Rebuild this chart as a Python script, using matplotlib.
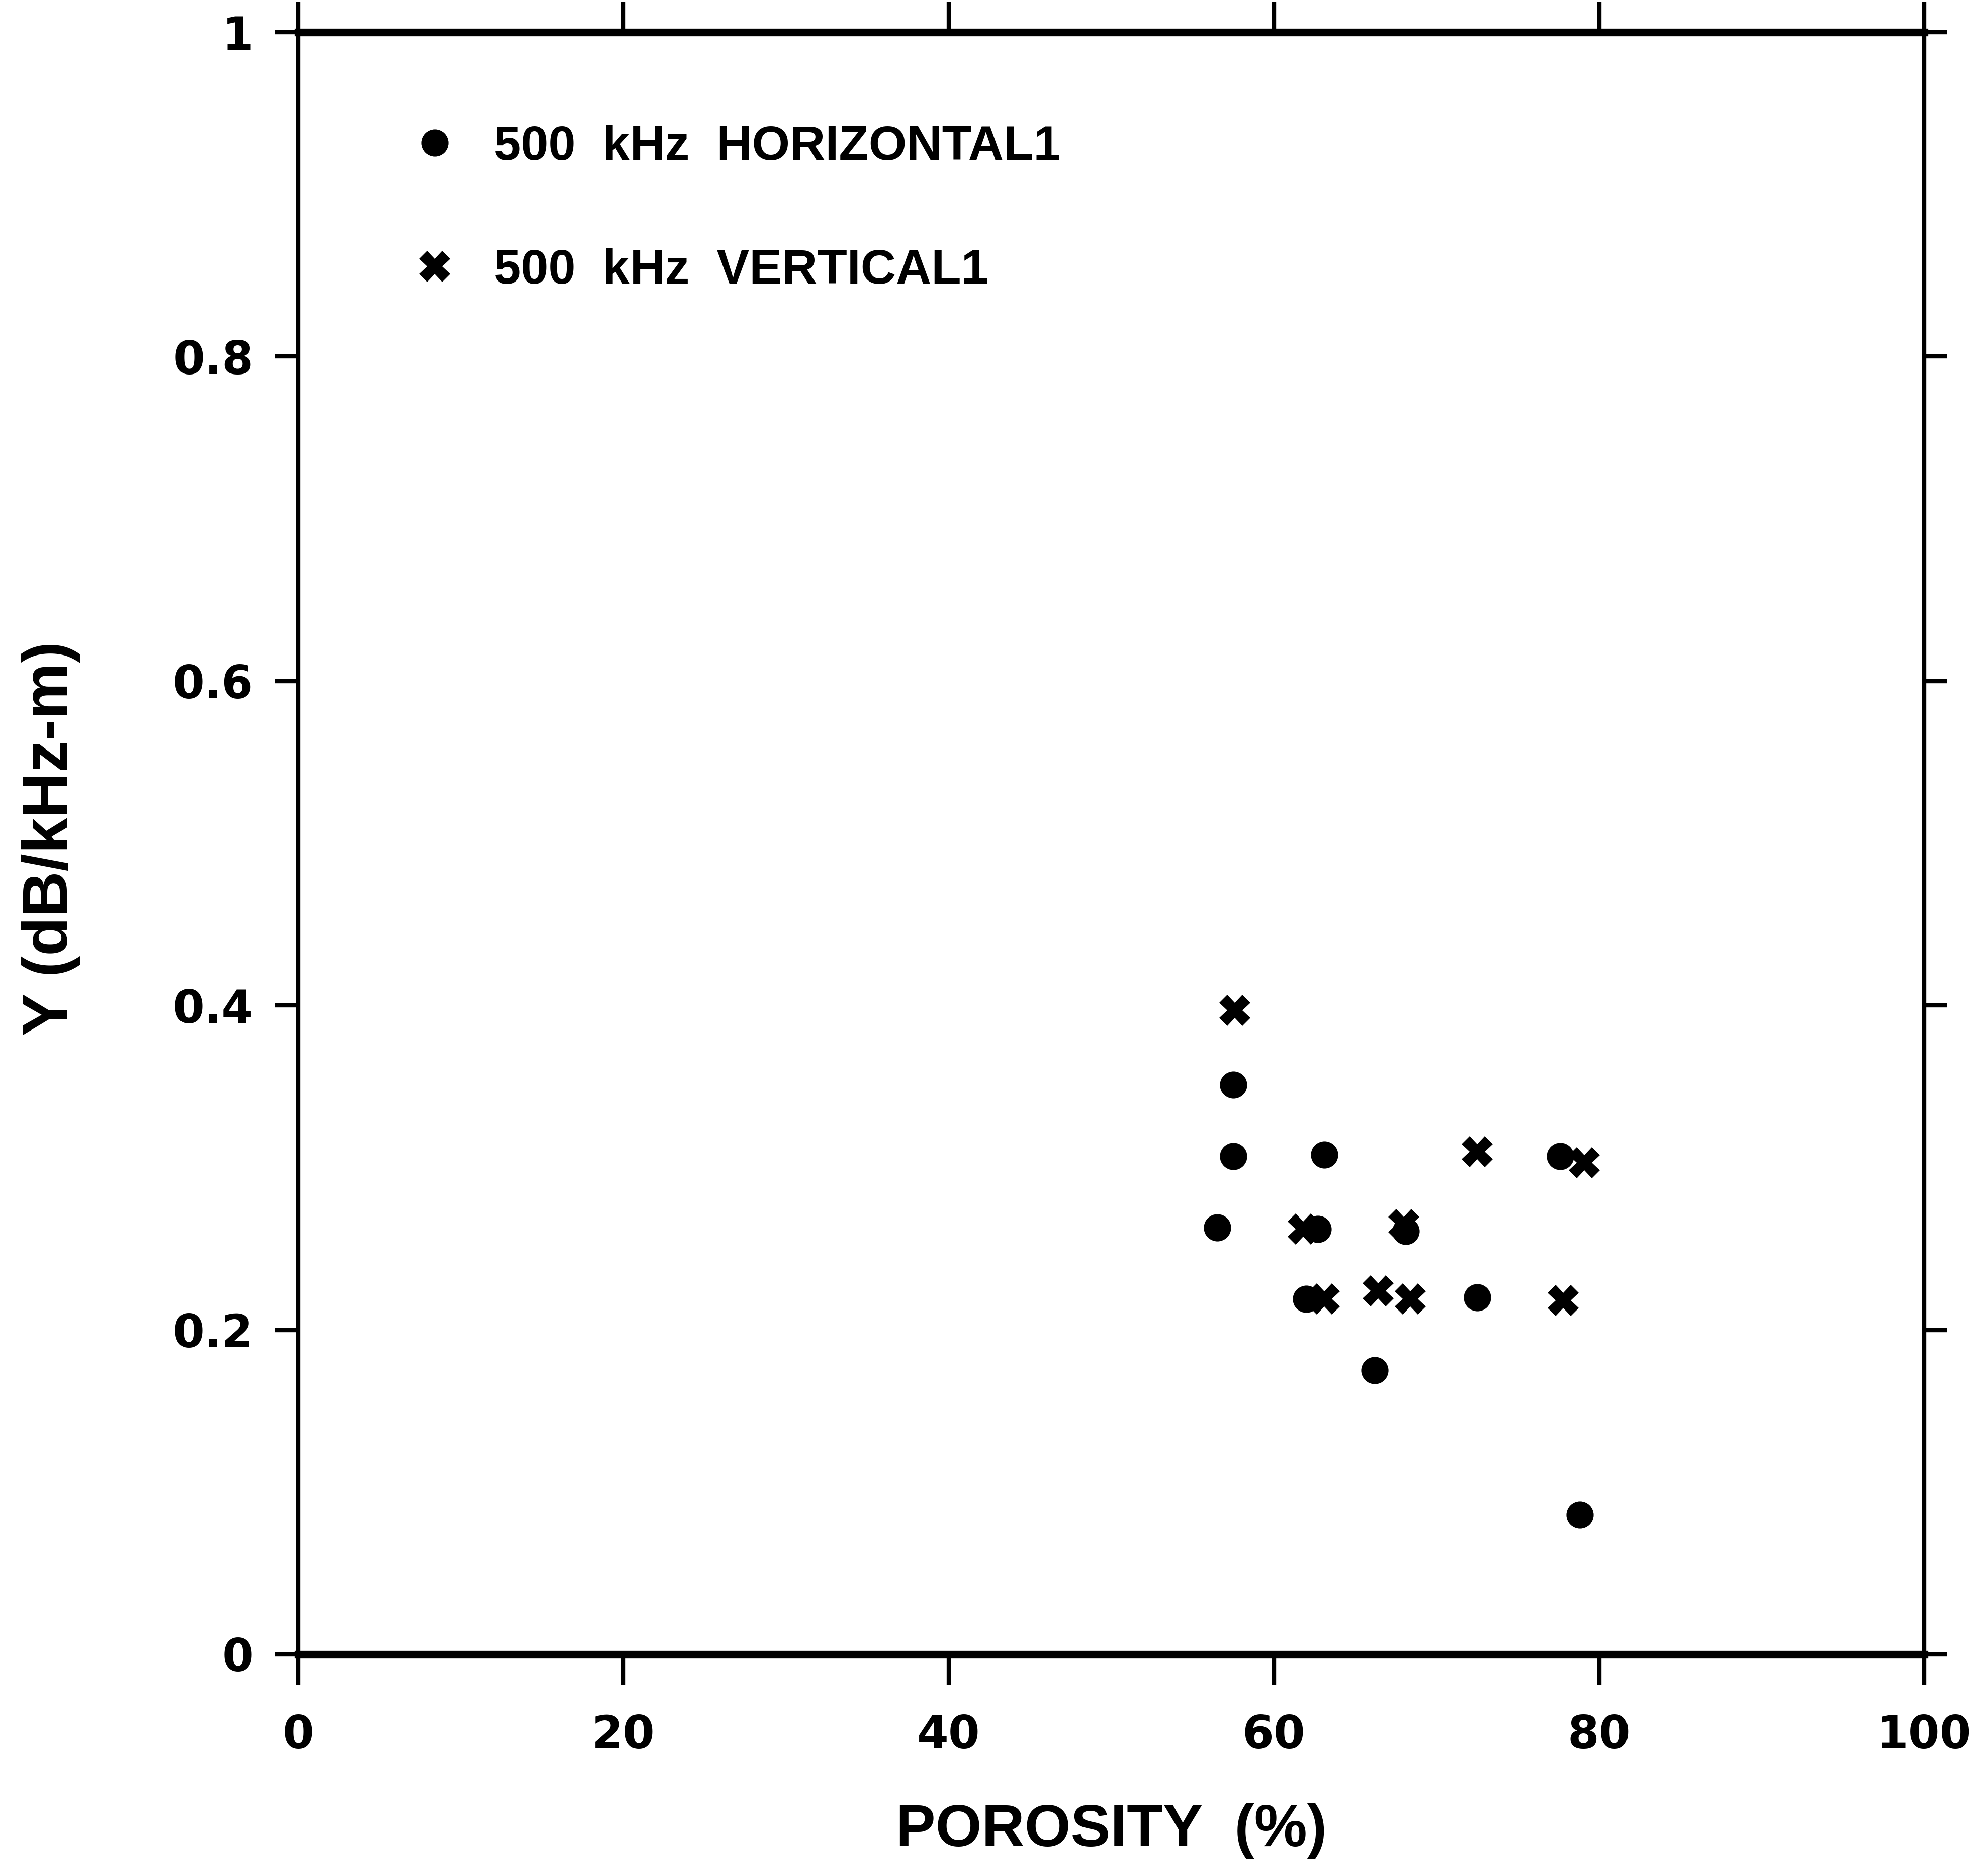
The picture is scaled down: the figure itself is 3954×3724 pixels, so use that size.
import matplotlib
matplotlib.use("Agg")
import matplotlib.pyplot as plt

# ---- data ----
horiz_x = [57.5, 57.5, 63.1, 77.6, 56.5, 62.7, 68.1, 62.0, 72.5, 66.2, 78.8]
horiz_y = [0.351, 0.307, 0.308, 0.307, 0.263, 0.262, 0.261, 0.219, 0.220, 0.175, 0.086]

vert_x = [57.6, 72.5, 79.1, 68.0, 61.8, 63.1, 66.4, 68.4, 77.8]
vert_y = [0.397, 0.310, 0.303, 0.265, 0.262, 0.219, 0.224, 0.219, 0.218]

x_ticks = [0, 20, 40, 60, 80, 100]
x_tick_labels = ["0", "20", "40", "60", "80", "100"]
y_ticks = [0, 0.2, 0.4, 0.6, 0.8, 1.0]
y_tick_labels = ["0", "0.2", "0.4", "0.6", "0.8", "1"]

label_h = "500  kHz  HORIZONTAL1"
label_v = "500  kHz  VERTICAL1"
x_title = "POROSITY  (%)"
y_title = "Y (dB/kHz-m)"

# ---- figure ----
DPI = 100
fig = plt.figure(figsize=(39.54, 37.24), dpi=DPI)
ax = fig.add_axes([0.150, 0.1163, 0.818, 0.8665])

ax.plot(horiz_x, horiz_y, linestyle="none", marker="o", markersize=38,
        color="black", label=label_h)
ax.plot(vert_x, vert_y, linestyle="none", marker="X", markersize=44,
        color="black", markeredgewidth=0, label=label_v)

ax.set_xlim(0, 100)
ax.set_ylim(0, 1)
ax.set_xticks(x_ticks)
ax.set_xticklabels(x_tick_labels)
ax.set_yticks(y_ticks)
ax.set_yticklabels(y_tick_labels)

for lab in ax.get_xticklabels() + ax.get_yticklabels():
    lab.set_fontfamily("DejaVu Sans")
    lab.set_fontweight("bold")
    lab.set_fontsize(65)

ax.tick_params(axis="x", which="both", direction="out", length=44, width=6,
               top=True, bottom=True, pad=41)
ax.tick_params(axis="y", which="both", direction="out", length=33, width=6,
               left=True, right=True, pad=31)

for side in ("top", "bottom"):
    ax.spines[side].set_linewidth(11)
for side in ("left", "right"):
    ax.spines[side].set_linewidth(6)

ax.set_xlabel(x_title, fontfamily="Liberation Sans", fontweight="bold", fontsize=85)
ax.xaxis.set_label_coords(0.5, -0.109)
ax.xaxis.label.set_va("center")
ax.set_ylabel(y_title, fontfamily="Liberation Sans", fontweight="bold", fontsize=91)
ax.yaxis.set_label_coords(-0.152, 0.503)
ax.yaxis.label.set_va("center")

leg = ax.legend(loc="upper left", bbox_to_anchor=(0.057, 0.955), frameon=False,
                numpoints=1, handlelength=1.0, handletextpad=0.7,
                labelspacing=1.6, borderaxespad=0,
                prop={"family": "Liberation Sans", "weight": "bold", "size": 70})

fig.savefig("out.png", dpi=DPI, facecolor="white")
